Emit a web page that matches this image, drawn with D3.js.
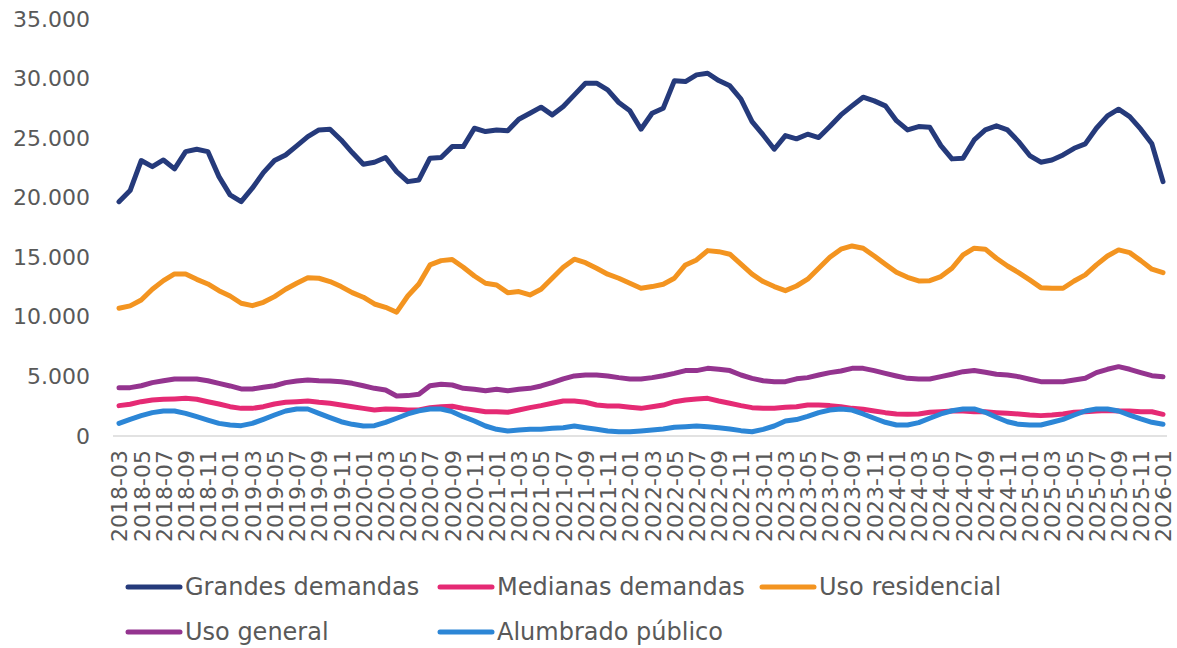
<!DOCTYPE html>
<html>
<head>
<meta charset="utf-8">
<script src="https://cdn.jsdelivr.net/npm/d3@7"></script>
<style>
  body { margin: 0; background: #fff; }
  text { font-family: "DejaVu Sans", sans-serif; fill: #595959; }
</style>
</head>
<body>
<div id="chart"></div>
<script>
// monthly categories 2018-03 .. 2026-01
const months = d3.utcMonth.range(new Date(Date.UTC(2018, 2, 1)), new Date(Date.UTC(2026, 1, 1)))
  .map(d3.utcFormat("%Y-%m"));

const yTicks = [0, 5000, 10000, 15000, 20000, 25000, 30000, 35000];

const seriesNames = ["Grandes demandas", "Medianas demandas", "Uso residencial", "Uso general", "Alumbrado público"];
const seriesColors = ["#253a7b", "#e52a74", "#f39420", "#94348f", "#2c86d6"];

const grandes = [19670,20600,23120,22610,23170,22420,23870,24070,23870,21770,
  20240,19670,20800,22110,23120,23590,24350,25130,25690,25750,
  24850,23790,22810,22980,23370,22190,21350,21490,23320,23370,
  24290,24290,25830,25550,25690,25630,26590,27090,27600,26950,
  27650,28630,29610,29610,29050,27990,27290,25750,27090,27510,
  29810,29750,30310,30450,29830,29390,28270,26390,25270,24070,
  25210,24940,25330,25050,25970,26950,27710,28440,28130,27710,
  26470,25690,25970,25920,24370,23260,23320,24850,25690,26030,
  25690,24710,23540,22980,23170,23590,24150,24520,25830,26870,
  27430,26810,25750,24520,21350];

const medianas = [2550,2660,2880,3020,3080,3110,3160,3080,2880,2690,
  2460,2320,2320,2460,2690,2830,2880,2940,2830,2750,
  2600,2460,2320,2180,2270,2240,2180,2180,2380,2460,
  2500,2320,2180,2040,2040,1990,2180,2380,2550,2750,
  2940,2940,2830,2600,2520,2520,2410,2320,2460,2600,
  2880,3020,3110,3160,2940,2750,2550,2380,2320,2320,
  2410,2460,2600,2600,2550,2460,2320,2240,2100,1960,
  1850,1820,1850,1990,2040,2100,2100,2040,2040,1960,
  1900,1850,1760,1710,1760,1850,1990,2040,2100,2130,
  2100,2100,2040,2040,1820];

const residencial = [10720,10920,11420,12320,13040,13600,13600,13150,12760,12200,
  11750,11140,10940,11220,11700,12320,12820,13290,13240,12960,
  12540,12030,11650,11080,10800,10390,11750,12760,14360,14720,
  14810,14160,13430,12820,12680,12030,12120,11840,12320,13240,
  14160,14840,14550,14080,13580,13240,12820,12400,12540,12740,
  13240,14360,14780,15560,15470,15260,14420,13580,12960,12540,
  12200,12590,13160,14080,15000,15680,15950,15760,15110,14420,
  13740,13320,13010,13040,13380,14080,15200,15760,15680,14920,
  14270,13710,13100,12450,12400,12400,13010,13520,14360,15110,
  15620,15390,14720,14000,13710];

const general = [4060,4060,4220,4480,4640,4790,4790,4790,4640,4420,
  4200,3950,3950,4090,4220,4480,4620,4700,4640,4620,
  4560,4420,4220,4000,3860,3360,3390,3500,4220,4340,
  4280,4000,3920,3800,3920,3800,3920,4000,4200,4480,
  4790,5040,5120,5120,5040,4900,4790,4790,4900,5060,
  5260,5490,5490,5680,5600,5490,5120,4840,4640,4560,
  4560,4800,4900,5120,5320,5460,5680,5680,5490,5260,
  5040,4840,4790,4790,4980,5180,5400,5490,5350,5180,
  5120,4980,4760,4560,4560,4560,4700,4840,5320,5600,
  5820,5600,5320,5060,4980];

const alumbrado = [1060,1400,1710,1960,2100,2100,1900,1620,1340,1060,
  920,870,1060,1400,1760,2100,2270,2270,1900,1540,
  1200,980,840,870,1150,1490,1850,2120,2270,2270,
  2040,1620,1260,840,560,420,500,560,560,650,
  700,840,700,560,420,360,360,420,500,590,
  730,780,840,780,700,590,450,360,560,840,
  1260,1380,1650,1960,2180,2270,2180,1850,1490,1150,
  920,920,1120,1490,1850,2120,2270,2270,1990,1570,
  1200,980,920,920,1150,1400,1760,2100,2270,2270,
  2100,1760,1430,1150,980];

const seriesValues = [grandes, medianas, residencial, general, alumbrado];

const width = 1177, height = 648;

const svg = d3.select("#chart")
  .append("svg")
    .attr("width", width)
    .attr("height", height);

const xScale = d3.scalePoint()
  .domain(months)
  .range([119, 1163]);

const yScale = d3.scaleLinear()
  .domain([0, 35000])
  .range([436, 19]);

const fmt = d3.formatLocale({decimal: ",", thousands: ".", grouping: [3], currency: ["", ""]}).format(",d");

// y axis labels (no axis line, no gridlines)
const yAxis = d3.axisLeft(yScale).tickValues(yTicks).tickFormat(fmt).tickSize(0).tickPadding(0);
svg.append("g")
    .attr("class", "y-axis")
    .attr("transform", "translate(90,0)")
    .call(yAxis)
    .call(g => g.select(".domain").remove())
    .call(g => g.selectAll("text")
      .attr("font-family", "DejaVu Sans")
      .attr("font-size", 22)
      .attr("fill", "#595959"));

// baseline
svg.append("line")
    .attr("x1", 113).attr("x2", 1167)
    .attr("y1", yScale(0)).attr("y2", yScale(0))
    .attr("stroke", "#d9d9d9")
    .attr("stroke-width", 1.5);

// x axis labels, every second month, rotated
const xAxis = d3.axisBottom(xScale)
  .tickValues(months.filter((d, i) => i % 2 === 0))
  .tickSize(0);
svg.append("g")
    .attr("class", "x-axis")
    .attr("transform", `translate(0, ${yScale(0)})`)
    .call(xAxis)
    .call(g => g.select(".domain").remove())
    .call(g => g.selectAll("text")
      .attr("font-family", "DejaVu Sans")
      .attr("font-size", 22)
      .attr("fill", "#595959")
      .attr("text-anchor", "end")
      .attr("transform", "rotate(-90)")
      .attr("x", -14)
      .attr("y", 0)
      .attr("dy", "0.36em"));

// lines
const line = d3.line()
  .x((d, i) => xScale(months[i]))
  .y(d => yScale(d));

svg.selectAll(".series")
  .data(seriesValues)
  .enter()
  .append("path")
    .attr("class", "series")
    .attr("fill", "none")
    .attr("stroke", (d, i) => seriesColors[i])
    .attr("stroke-width", 5)
    .attr("stroke-linejoin", "round")
    .attr("stroke-linecap", "round")
    .attr("d", line);

// legend
const legendPos = [[128, 587], [440, 587], [762, 587], [128, 632], [440, 632]];
const legend = svg.selectAll(".legend")
  .data(seriesNames)
  .enter()
  .append("g")
    .attr("class", "legend")
    .attr("transform", (d, i) => `translate(${legendPos[i][0]}, ${legendPos[i][1]})`);

legend.append("line")
    .attr("x1", 0).attr("x2", 52)
    .attr("stroke", (d, i) => seriesColors[i])
    .attr("stroke-width", 5)
    .attr("stroke-linecap", "round");

legend.append("text")
    .attr("x", 57)
    .attr("dy", "0.35em")
    .attr("font-size", 24)
    .text(d => d);
</script>
</body>
</html>
